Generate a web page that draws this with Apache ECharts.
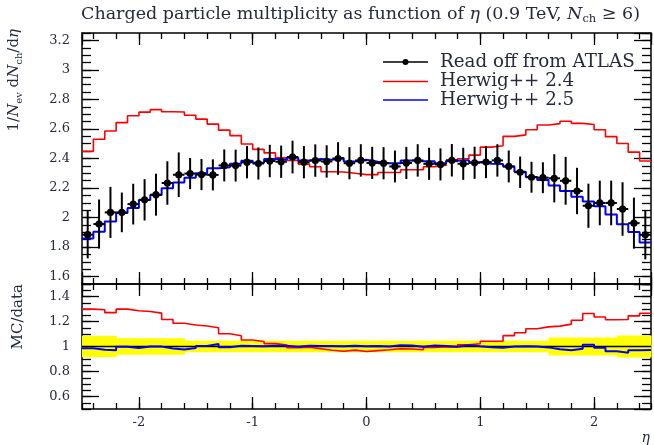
<!DOCTYPE html>
<html>
<head>
<meta charset="utf-8">
<script src="https://cdn.jsdelivr.net/npm/echarts@6/dist/echarts.min.js"></script>
<style>
  html, body { margin: 0; padding: 0; background: #ffffff; }
  #chart { width: 654px; height: 445px; }
</style>
</head>
<body>
<div id="chart"></div>
<script>
// Pseudorapidity binning: 50 bins of width 0.1 between -2.5 and 2.5
const etaMin = -2.5;
const etaMax = 2.5;
const binWidth = 0.1;

// ATLAS measurement, 1/Nev dNch/deta at 0.9 TeV, Nch >= 6
const atlasValues = [
  1.884, 1.956, 2.035, 2.035, 2.091, 2.120, 2.155, 2.234, 2.290, 2.298,
  2.291, 2.289, 2.353, 2.352, 2.375, 2.366, 2.383, 2.378, 2.410, 2.375,
  2.386, 2.380, 2.400, 2.368, 2.387, 2.370, 2.368, 2.346, 2.370, 2.387,
  2.364, 2.360, 2.388, 2.364, 2.371, 2.376, 2.387, 2.346, 2.307, 2.273,
  2.270, 2.266, 2.249, 2.180, 2.080, 2.099, 2.099, 2.058, 1.962, 1.883
];

// Relative uncertainty of the measurement in each bin
const atlasRelErr = [
  0.085, 0.085, 0.085, 0.066, 0.066, 0.066, 0.066, 0.066, 0.066, 0.046,
  0.046, 0.046, 0.046, 0.046, 0.046, 0.046, 0.046, 0.046, 0.046, 0.046,
  0.046, 0.046, 0.046, 0.046, 0.046, 0.046, 0.046, 0.046, 0.046, 0.046,
  0.046, 0.046, 0.046, 0.046, 0.046, 0.046, 0.046, 0.046, 0.046, 0.046,
  0.046, 0.072, 0.072, 0.072, 0.072, 0.072, 0.072, 0.088, 0.088, 0.088
];

// Herwig++ 2.4 prediction
const herwig24Values = [
  2.448, 2.530, 2.586, 2.643, 2.690, 2.714, 2.731, 2.717, 2.715, 2.693,
  2.667, 2.633, 2.592, 2.555, 2.498, 2.462, 2.438, 2.404, 2.387, 2.362,
  2.344, 2.310, 2.309, 2.300, 2.291, 2.291, 2.305, 2.305, 2.324, 2.324,
  2.344, 2.355, 2.380, 2.398, 2.423, 2.477, 2.486, 2.550, 2.560, 2.595,
  2.627, 2.636, 2.652, 2.638, 2.630, 2.595, 2.548, 2.502, 2.443, 2.383
];

// Herwig++ 2.5 prediction
const herwig25Values = [
  1.859, 1.904, 1.974, 2.031, 2.065, 2.119, 2.153, 2.198, 2.237, 2.269,
  2.300, 2.334, 2.340, 2.364, 2.385, 2.371, 2.396, 2.391, 2.405, 2.387,
  2.396, 2.391, 2.403, 2.380, 2.391, 2.378, 2.368, 2.368, 2.387, 2.382,
  2.382, 2.368, 2.385, 2.389, 2.375, 2.364, 2.362, 2.346, 2.311, 2.274,
  2.254, 2.217, 2.180, 2.141, 2.109, 2.077, 2.021, 1.955, 1.903, 1.831
];

// Axis ranges and tick spacings
const mainRange = [1.55, 3.25];
const ratioRange = [0.5, 1.5];
const etaMajorStep = 1, etaMinorStep = 0.2;
const yMajorStep = 0.2, yMinorStep = 0.05;

const serif = 'DejaVu Serif';
const textColor = '#262b3a';

const binEdges = [];
for (let i = 0; i <= atlasValues.length; i++) {
  binEdges.push(+(etaMin + i * binWidth).toFixed(3));
}

function stepPoints(values) {
  const pts = [];
  values.forEach((v, i) => {
    pts.push([binEdges[i], v], [binEdges[i + 1], v]);
  });
  return pts;
}

const ratio24 = herwig24Values.map((v, i) => v / atlasValues[i]);
const ratio25 = herwig25Values.map((v, i) => v / atlasValues[i]);
const ratioData = atlasValues.map(v => v / v);

const errorBarData = atlasValues.map((v, i) => [
  (binEdges[i] + binEdges[i + 1]) / 2, v, v * atlasRelErr[i], binEdges[i], binEdges[i + 1]
]);
const bandData = atlasRelErr.map((r, i) => [binEdges[i], binEdges[i + 1], 1 + r, 1 - r]);

function xAxisDef(grid, position, major, labels) {
  const step = major ? etaMajorStep : etaMinorStep;
  return {
    type: 'value', gridIndex: grid, position: position,
    min: etaMin, max: etaMax, minInterval: step, maxInterval: step,
    axisLine: { show: major, onZero: false, lineStyle: { color: '#000', width: 1.5 } },
    axisTick: { show: true, inside: true, length: major ? 12 : 6, lineStyle: { color: '#000', width: 1.3 } },
    axisLabel: {
      show: labels, margin: 7, showMinLabel: false, showMaxLabel: false,
      fontFamily: serif, fontSize: 13, color: textColor
    },
    splitLine: { show: false }
  };
}

function yAxisDef(grid, position, major, labels, range) {
  const step = major ? yMajorStep : yMinorStep;
  return {
    type: 'value', gridIndex: grid, position: position,
    min: range[0], max: range[1], minInterval: step, maxInterval: step,
    axisLine: { show: major, onZero: false, lineStyle: { color: '#000', width: 1.5 } },
    axisTick: { show: true, inside: true, length: major ? 17 : 9, lineStyle: { color: '#000', width: 1.3 } },
    axisLabel: {
      show: labels, margin: 12, showMinLabel: false, showMaxLabel: false,
      fontFamily: serif, fontSize: 13, color: textColor
    },
    splitLine: { show: false }
  };
}

const chart = echarts.init(document.getElementById('chart'), null, { renderer: 'canvas' });

const option = {
  animation: false,
  backgroundColor: '#ffffff',
  title: {
    left: 81, top: 4, padding: 0,
    text: '{n|Charged particle multiplicity as function of }{i|η}{n| (0.9 TeV, }{i|N}{s|ch}{n| ≥ 6)}',
    textStyle: {
      fontWeight: 'normal',
      rich: {
        n: { fontFamily: serif, fontSize: 17.5, fontWeight: 'normal', color: textColor, lineHeight: 21 },
        i: { fontFamily: serif, fontSize: 17.5, fontWeight: 'normal', fontStyle: 'italic', color: textColor, lineHeight: 21 },
        s: { fontFamily: serif, fontSize: 11.5, fontWeight: 'normal', color: textColor, lineHeight: 11, verticalAlign: 'bottom' }
      }
    }
  },
  grid: [
    { left: 82, top: 33, width: 569, height: 251 },
    { left: 82, top: 284, width: 569, height: 125 }
  ],
  xAxis: [
    xAxisDef(0, 'bottom', true, false),
    xAxisDef(0, 'bottom', false, false),
    xAxisDef(0, 'top', true, false),
    xAxisDef(0, 'top', false, false),
    xAxisDef(1, 'bottom', true, true),
    xAxisDef(1, 'bottom', false, false),
    xAxisDef(1, 'top', true, false),
    xAxisDef(1, 'top', false, false)
  ],
  yAxis: [
    yAxisDef(0, 'left', true, true, mainRange),
    yAxisDef(0, 'left', false, false, mainRange),
    yAxisDef(0, 'right', true, false, mainRange),
    yAxisDef(0, 'right', false, false, mainRange),
    yAxisDef(1, 'left', true, true, ratioRange),
    yAxisDef(1, 'left', false, false, ratioRange),
    yAxisDef(1, 'right', true, false, ratioRange),
    yAxisDef(1, 'right', false, false, ratioRange)
  ],
  series: [
    {
      name: 'Herwig++ 2.4', type: 'line', xAxisIndex: 0, yAxisIndex: 0,
      data: stepPoints(herwig24Values), showSymbol: false, silent: true,
      lineStyle: { color: '#ff0000', width: 1.6 }, z: 2
    },
    {
      name: 'Herwig++ 2.5', type: 'line', xAxisIndex: 0, yAxisIndex: 0,
      data: stepPoints(herwig25Values), showSymbol: false, silent: true,
      lineStyle: { color: '#0000ff', width: 2 }, z: 3
    },
    {
      name: 'Read off from ATLAS', type: 'custom', xAxisIndex: 0, yAxisIndex: 0,
      data: errorBarData, encode: { x: [0, 3, 4], y: 1 }, silent: true, z: 4,
      renderItem: function (params, api) {
        const x = api.value(0), y = api.value(1), e = api.value(2);
        const top = api.coord([x, y + e]);
        const bot = api.coord([x, y - e]);
        const l = api.coord([api.value(3), y]);
        const r = api.coord([api.value(4), y]);
        const style = { stroke: '#000', lineWidth: 2 };
        return {
          type: 'group',
          children: [
            { type: 'line', shape: { x1: top[0], y1: top[1], x2: bot[0], y2: bot[1] }, style: style },
            { type: 'line', shape: { x1: l[0], y1: l[1], x2: r[0], y2: r[1] }, style: style },
            { type: 'circle', shape: { cx: top[0], cy: l[1], r: 3.6 }, style: { fill: '#000' } }
          ]
        };
      }
    },
    {
      name: 'band', type: 'custom', xAxisIndex: 4, yAxisIndex: 4,
      data: bandData, encode: { x: [0, 1], y: [2, 3] }, silent: true, z: 1,
      renderItem: function (params, api) {
        const p1 = api.coord([api.value(0), api.value(2)]);
        const p2 = api.coord([api.value(1), api.value(3)]);
        return {
          type: 'rect',
          shape: { x: p1[0], y: p1[1], width: p2[0] - p1[0] + 0.6, height: p2[1] - p1[1] },
          style: { fill: '#ffff00' }
        };
      }
    },
    {
      name: 'data ratio', type: 'line', xAxisIndex: 4, yAxisIndex: 4,
      data: stepPoints(ratioData), showSymbol: false, silent: true,
      lineStyle: { color: '#000', width: 1.6 }, z: 2
    },
    {
      name: 'ratio 2.4', type: 'line', xAxisIndex: 4, yAxisIndex: 4,
      data: stepPoints(ratio24), showSymbol: false, silent: true,
      lineStyle: { color: '#ff0000', width: 1.6 }, z: 3
    },
    {
      name: 'ratio 2.5', type: 'line', xAxisIndex: 4, yAxisIndex: 4,
      data: stepPoints(ratio25), showSymbol: false, silent: true,
      lineStyle: { color: '#0000ff', width: 2 }, z: 4
    }
  ],
  graphic: [
    // y-axis titles
    {
      type: 'text', x: 14, y: 29, rotation: Math.PI / 2,
      style: {
        text: '{n|1/}{i|N}{s|ev}{n| d}{i|N}{s|ch}{n|/d}{i|η}',
        textAlign: 'right', textVerticalAlign: 'middle',
        rich: {
          n: { fontFamily: serif, fontSize: 15, fill: textColor, lineHeight: 20 },
          i: { fontFamily: serif, fontSize: 15, fontStyle: 'italic', fill: textColor, lineHeight: 20 },
          s: { fontFamily: serif, fontSize: 10, fill: textColor, lineHeight: 10, verticalAlign: 'bottom' }
        }
      }
    },
    {
      type: 'text', x: 18, y: 284, rotation: Math.PI / 2,
      style: {
        text: 'MC/data', font: '15px "DejaVu Serif"', fill: textColor,
        textAlign: 'right', textVerticalAlign: 'middle'
      }
    },
    // x-axis title
    {
      type: 'text', x: 650, y: 438,
      style: {
        text: 'η', font: 'italic 14px "DejaVu Serif"', fill: textColor,
        textAlign: 'right', textVerticalAlign: 'middle'
      }
    },
    // legend
    { type: 'line', shape: { x1: 383, y1: 62, x2: 428, y2: 62 }, style: { stroke: '#000', lineWidth: 1.5 } },
    { type: 'circle', shape: { cx: 405.5, cy: 62, r: 3 }, style: { fill: '#000' } },
    {
      type: 'text', x: 440, y: 62,
      style: { text: 'Read off from ATLAS', font: '18.3px "DejaVu Serif"', fill: textColor, textVerticalAlign: 'middle' }
    },
    { type: 'line', shape: { x1: 383, y1: 81.5, x2: 428, y2: 81.5 }, style: { stroke: '#ff0000', lineWidth: 1.5 } },
    {
      type: 'text', x: 440, y: 81.5,
      style: { text: 'Herwig++ 2.4', font: '18.3px "DejaVu Serif"', fill: textColor, textVerticalAlign: 'middle' }
    },
    { type: 'line', shape: { x1: 383, y1: 100, x2: 428, y2: 100 }, style: { stroke: '#0000ff', lineWidth: 1.5 } },
    {
      type: 'text', x: 440, y: 100,
      style: { text: 'Herwig++ 2.5', font: '18.3px "DejaVu Serif"', fill: textColor, textVerticalAlign: 'middle' }
    }
  ]
};

chart.setOption(option);
</script>
</body>
</html>
